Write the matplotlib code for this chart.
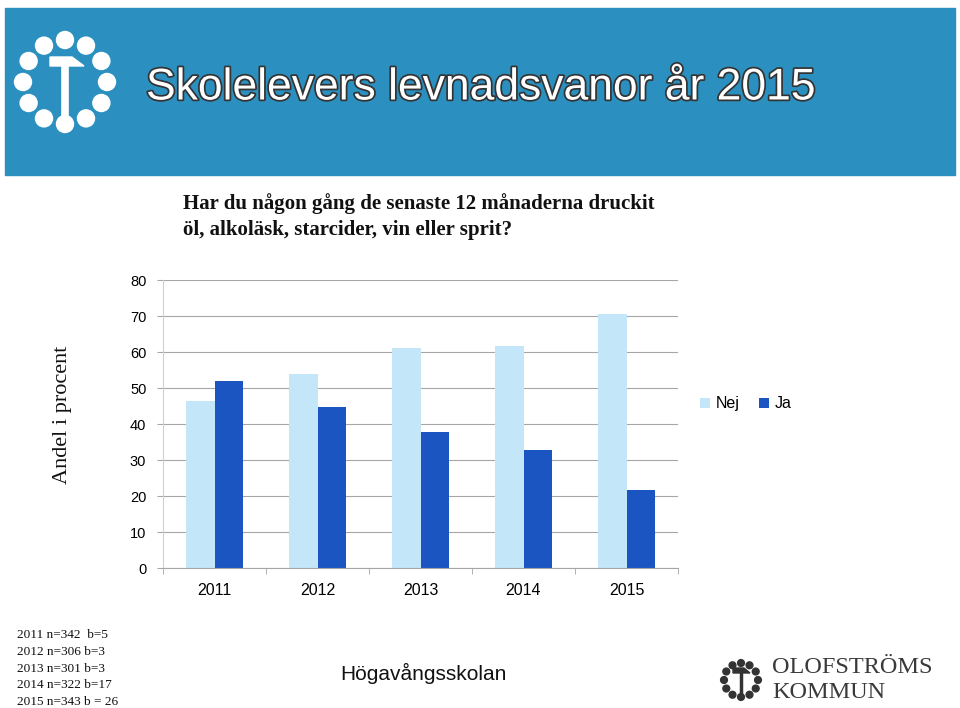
import numpy as np
import matplotlib
matplotlib.use("Agg")
import matplotlib.pyplot as plt
import matplotlib.patheffects as pe
from matplotlib.patches import Rectangle, Circle

years = ["2011", "2012", "2013", "2014", "2015"]
nej = [46.3, 54.0, 61.0, 61.6, 70.5]
ja = [52.0, 44.7, 37.9, 32.8, 21.7]
sample_notes = ["2011 n=342  b=5", "2012 n=306 b=3", "2013 n=301 b=3",
                "2014 n=322 b=17", "2015 n=343 b = 26"]

nej_color = "#c3e6f8"
ja_color = "#1b55c2"
band_color = "#2b90bf"

plt.rcParams["font.family"] = ["Liberation Sans", "DejaVu Sans"]

fig = plt.figure(figsize=(9.6, 7.08), dpi=100)

# full-figure layer in pixel coordinates for the slide decorations
deco = fig.add_axes([0, 0, 1, 1])
deco.set_xlim(0, 960)
deco.set_ylim(708, 0)
deco.axis("off")

deco.add_patch(Rectangle((5, 8), 950, 167, color=band_color, zorder=0))

# header logo: ring of dots with a hammer-T
for k in range(12):
    a = np.deg2rad(90 + 30 * k)
    deco.add_patch(Circle((65 + 42 * np.cos(a), 82 - 42 * np.sin(a)), 8.5,
                          color="white", zorder=2))
deco.plot([65, 65], [62, 116], color="white", lw=5.5, solid_capstyle="butt", zorder=2)
deco.fill([50, 72, 84, 72, 50], [57, 57, 66, 66, 66], color="white", zorder=2)

deco.text(146, 88, "Skolelevers levnadsvanor år 2015", color="white",
          fontsize=32, family="Liberation Sans", va="center", ha="left",
          path_effects=[pe.withStroke(linewidth=2.5, foreground="#333333")])

deco.text(183, 217, "Har du någon gång de senaste 12 månaderna druckit\n"
                    "öl, alkoläsk, starcider, vin eller sprit?",
          fontsize=15, family="Liberation Serif", fontweight="bold",
          va="center", ha="left", linespacing=1.4, color="#111111")

deco.text(62, 415, "Andel i procent", rotation=90, fontsize=16,
          family="Liberation Serif", va="center", ha="center", color="#111111")

for i, line in enumerate(sample_notes):
    deco.text(17, 635 + i * 16.8, line, fontsize=9.5, family="Liberation Serif",
              va="center", ha="left", color="#111111")

deco.text(340, 673, "Högavångsskolan", fontsize=15, family="Liberation Sans",
          va="center", ha="left", color="#111111")

# footer logo
for k in range(12):
    a = np.deg2rad(90 + 30 * k)
    deco.add_patch(Circle((741 + 17 * np.cos(a), 680 - 17 * np.sin(a)), 3.4,
                          color="#333333", zorder=2))
deco.plot([741, 741], [672, 695], color="#333333", lw=2.5, solid_capstyle="butt")
deco.fill([733, 744, 750, 744, 733], [668, 668, 673, 673, 673], color="#333333")
deco.text(772, 680, "OLOFSTRÖMS\nKOMMUN", fontsize=17.5, family="Liberation Serif",
          va="center", ha="left", color="#3a3a3a", linespacing=1.2)

# chart
ax = fig.add_axes([163 / 960, 1 - 568 / 708, 515 / 960, 288 / 708])
x = np.arange(len(years))
w = 0.28
ax.bar(x - w / 2, nej, w, color=nej_color, label="Nej", zorder=2)
ax.bar(x + w / 2, ja, w, color=ja_color, label="Ja", zorder=2)

ax.set_xlim(-0.5, len(years) - 0.5)
ax.set_ylim(0, 80)
ax.set_yticks(range(0, 81, 10))
ax.yaxis.grid(True, color="#a6a6a6", lw=0.8)
ax.set_axisbelow(True)
ax.set_xticks(x)
ax.set_xticklabels(years)
ax.set_xticks(np.arange(-0.5, len(years)), minor=True)
ax.tick_params(axis="x", which="major", length=0, pad=11, labelsize=11.5)
ax.tick_params(axis="x", which="minor", length=4, color="#a6a6a6")
ax.tick_params(axis="y", length=4, color="#a6a6a6", labelsize=10.5, pad=8)
for s in ["top", "right"]:
    ax.spines[s].set_visible(False)
ax.spines["left"].set_color("#d0d0d0")
ax.spines["bottom"].set_color("#a6a6a6")

ax.legend(loc="center left", bbox_to_anchor=(1.015, 0.57), ncol=2, frameon=False,
          handlelength=0.6, handleheight=0.6, handletextpad=0.4, columnspacing=1.2,
          fontsize=11.5)

fig.savefig("out.png", dpi=100)
